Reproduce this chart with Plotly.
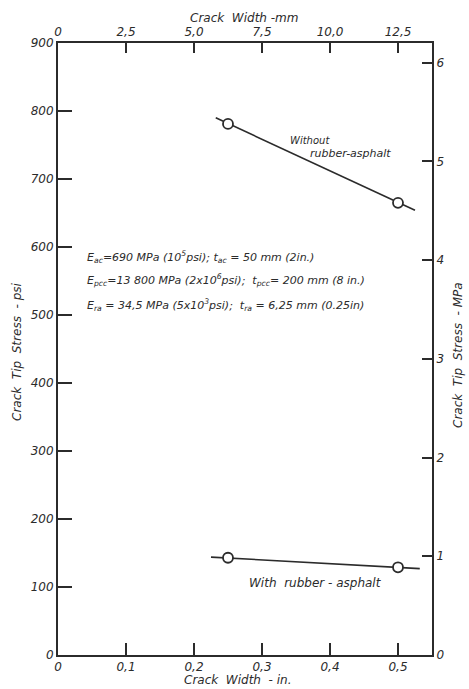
import plotly.graph_objects as go

# Data (crack width in inches, crack tip stress in psi)
without_pts_x = [0.25, 0.5]
without_pts_y = [781, 665]
without_line_x = [0.232, 0.525]
without_line_y = [790, 654]

with_pts_x = [0.25, 0.5]
with_pts_y = [143, 129]
with_line_x = [0.225, 0.532]
with_line_y = [144, 127]

x_in_ticks = [0, 0.1, 0.2, 0.3, 0.4, 0.5]
x_in_labels = ["0", "0,1", "0,2", "0,3", "0,4", "0,5"]
x_mm_ticks = [0, 2.5, 5.0, 7.5, 10.0, 12.5]
x_mm_labels = ["0", "2,5", "5,0", "7,5", "10,0", "12,5"]
y_psi_ticks = [0, 100, 200, 300, 400, 500, 600, 700, 800, 900]
y_psi_labels = [str(v) for v in y_psi_ticks]
y_mpa_ticks = [0, 1, 2, 3, 4, 5, 6]
y_mpa_labels = [str(v) for v in y_mpa_ticks]

INK = "#2b2b2b"
FONT = "DejaVu Sans"
W, H = 469, 689
L, R, T, B = 58, 432, 43, 655

fig = go.Figure()
for lx, ly, px, py in [(without_line_x, without_line_y, without_pts_x, without_pts_y),
                       (with_line_x, with_line_y, with_pts_x, with_pts_y)]:
    fig.add_trace(go.Scatter(x=lx, y=ly, mode="lines",
                             line=dict(color=INK, width=1.6), showlegend=False,
                             hoverinfo="skip"))
    fig.add_trace(go.Scatter(x=px, y=py, mode="markers",
                             marker=dict(symbol="circle", size=10, color="white",
                                         line=dict(color=INK, width=1.8)),
                             showlegend=False))

tickfont = dict(family=FONT, size=12, color=INK, style="italic")
axis_common = dict(showgrid=False, zeroline=False, showline=True, linecolor=INK,
                   linewidth=2, ticks="inside", tickcolor=INK, tickwidth=1.5,
                   tickfont=tickfont, tickmode="array", automargin=False)

fig.update_layout(
    width=W, height=H,
    margin=dict(l=L, r=W - R, t=T, b=H - B, autoexpand=False),
    paper_bgcolor="white", plot_bgcolor="white",
    font=dict(family=FONT, color=INK),
    xaxis=dict(range=[0, 0.55], tickvals=x_in_ticks, ticktext=x_in_labels,
               ticklen=12, **axis_common),
    xaxis2=dict(range=[0, 13.75], overlaying="x", side="top", anchor="y",
                tickvals=x_mm_ticks, ticktext=x_mm_labels, ticklen=10,
                **axis_common),
    yaxis=dict(range=[0, 900], tickvals=y_psi_ticks, ticktext=y_psi_labels,
               ticklen=14, **axis_common),
    yaxis2=dict(range=[0, 6.2], overlaying="y", side="right", anchor="x",
                tickvals=y_mpa_ticks, ticktext=y_mpa_labels, ticklen=10,
                **axis_common),
)
# invisible trace to activate secondary axes
fig.add_trace(go.Scatter(x=[0], y=[0], xaxis="x2", yaxis="y2", mode="markers",
                         marker=dict(opacity=0), showlegend=False, hoverinfo="skip"))

def ann(text, x, y, size=11, xanchor="left", xref="x", yref="y", angle=0):
    fig.add_annotation(text=text, x=x, y=y, xref=xref, yref=yref, showarrow=False,
                       xanchor=xanchor, yanchor="middle", textangle=angle,
                       font=dict(family=FONT, size=size, color=INK, style="italic"))

def pann(text, px, py, **kw):
    ann(text, (px - L) / (R - L), (B - py) / (B - T), xref="paper", yref="paper", **kw)

ann("Without", 0.338, 757, size=10)
ann("rubber-asphalt", 0.368, 738, size=11)
ann("With  rubber - asphalt", 0.378, 106, size=12, xanchor="center")

ann("E<sub>ac</sub>=690 MPa (10<sup>5</sup>psi); t<sub>ac</sub> = 50 mm (2in.)", 0.04, 585)
ann("E<sub>pcc</sub>=13 800 MPa (2x10<sup>6</sup>psi);  t<sub>pcc</sub>= 200 mm (8 in.)", 0.04, 551)
ann("E<sub>ra</sub> = 34,5 MPa (5x10<sup>3</sup>psi);  t<sub>ra</sub> = 6,25 mm (0.25in)", 0.04, 515)

# Axis titles
pann("Crack  Width -mm", 244, 18, size=12, xanchor="center")
pann("Crack  Width  - in.", 238, 680, size=12, xanchor="center")
pann("Crack  Tip  Stress  - psi", 17, 352, size=12, xanchor="center", angle=-90)
pann("Crack  Tip  Stress  - MPa", 458, 355, size=12, xanchor="center", angle=-90)

fig.write_html("out.html", config={"displayModeBar": False},
               post_script="document.body.style.margin='0px';document.body.style.padding='0px';")
